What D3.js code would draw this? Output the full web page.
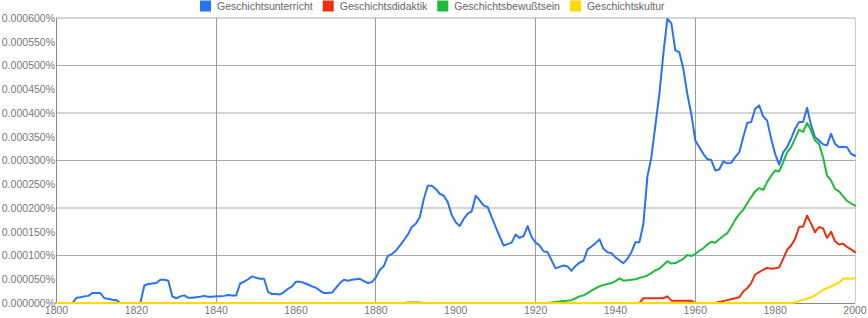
<!DOCTYPE html>
<html>
<head>
<meta charset="utf-8">
<script src="https://cdn.jsdelivr.net/npm/d3@7"></script>
<style>
  body { margin: 0; background: #fff; }
  svg { display: block; font-family: "Liberation Sans", Arial, sans-serif; }
</style>
</head>
<body>
<div id="chart"></div>
<script>
// values in units of 0.000001 %
const firstYear = 1800, lastYear = 2000;

const unterricht = [
  0,0,0,0,0,11,12,14,15,21,
  21,21,10,9,7,6,0,0,0,0,
  0,0,37,40,41,42,49,49,47,14,
  10,14,16,11,11,12,13,15,13,13,
  14,14,15,17,16,16,41,45,50,56,
  53,51,51,23,19,19,18,23,30,35,
  45,45,42,39,35,32,26,21,21,22,
  32,42,49,47,49,50,51,46,42,44,
  54,70,78,99,103,110,121,132,144,160,
  167,181,219,247,247,240,230,226,212,185,
  170,162,177,188,193,226,216,205,202,181,
  160,140,121,124,127,144,137,141,162,139,
  127,121,109,107,90,73,76,79,77,68,
  78,85,89,113,119,126,134,114,107,105,
  96,90,84,93,107,128,128,167,266,307,
  374,440,525,598,589,532,528,493,440,398,
  342,328,314,303,301,279,281,298,294,295,
  307,317,349,379,381,409,416,393,384,346,
  314,291,317,328,346,367,381,381,411,374,
  349,342,334,332,356,335,328,329,328,314,
  310
];

const didaktik = [
  0,0,0,0,0,0,0,0,0,0,
  0,0,0,0,0,0,0,0,0,0,
  0,0,0,0,0,0,0,0,0,0,
  0,0,0,0,0,0,0,0,0,0,
  0,0,0,0,0,0,0,0,0,0,
  0,0,0,0,0,0,0,0,0,0,
  0,0,0,0,0,0,0,0,0,0,
  0,0,0,0,0,0,0,0,0,0,
  0,0,0,0,0,0,0,0,0,0,
  0,0,0,0,0,0,0,0,0,0,
  0,0,0,0,0,0,0,0,0,0,
  0,0,0,0,0,0,0,0,0,0,
  0,0,0,0,0,0,0,0,0,0,
  0,0,0,0,0,0,0,0,0,0,
  0,0,0,0,0,0,0,10,10,10,
  10,10,10,14,5,5,5,5,5,5,
  0,0,0,0,0,0,2,4,6,8,
  10,12,24,31,42,60,65,70,74,72,
  73,75,93,112,121,135,160,161,184,167,
  149,160,157,137,150,130,123,125,118,113,
  107
];

const bewusstsein = [
  0,0,0,0,0,0,0,0,0,0,
  0,0,0,0,0,0,0,0,0,0,
  0,0,0,0,0,0,0,0,0,0,
  0,0,0,0,0,0,0,0,0,0,
  0,0,0,0,0,0,0,0,0,0,
  0,0,0,0,0,0,0,0,0,0,
  0,0,0,0,0,0,0,0,0,0,
  0,0,0,0,0,0,0,0,0,0,
  0,0,0,0,0,0,0,0,1,1,
  1,1,0,0,0,0,0,0,0,0,
  0,0,0,0,0,0,0,0,0,0,
  0,0,0,0,0,0,0,0,0,0,
  0,0,0,0,1,2,3,4,5,6,
  10,14,16,21,26,31,35,38,40,42,
  46,52,47,48,49,50,53,55,58,63,
  69,72,80,88,83,84,88,93,101,99,
  103,110,115,123,129,127,134,141,147,160,
  175,187,196,210,223,235,242,238,255,268,
  279,277,296,317,328,346,365,360,379,363,
  342,335,307,268,258,240,235,225,215,210,
  205
];

const kultur = [
  0,0,0,0,0,0,0,0,0,0,
  0,0,0,0,0,0,0,0,0,0,
  0,0,0,0,0,0,0,0,0,0,
  0,0,0,0,0,0,0,0,0,0,
  0,0,0,0,0,0,0,0,0,0,
  0,0,0,0,0,0,0,0,0,0,
  0,0,0,0,0,0,0,0,0,0,
  0,0,0,0,0,0,0,0,0,0,
  0,0,0,0,0,0,0,0,0,0,
  0,0,0,0,0,0,0,0,0,0,
  0,0,0,0,0,0,0,0,0,0,
  0,0,0,0,0,0,0,0,0,0,
  0,0,0,0,0,0,0,0,0,0,
  0,0,0,0,0,0,0,0,0,0,
  0,0,0,0,0,0,0,0,0,0,
  0,0,0,0,0,0,0,0,0,0,
  0,0,0,0,0,0,0,0,0,0,
  0,0,0,0,0,0,0,0,0,0,
  0,0,0,0,0,1,4,7,9,12,
  16,22,28,31,35,39,43,51,52,51,
  52
];

const seriesNames = ["Geschichtsunterricht", "Geschichtsdidaktik", "Geschichtsbewußtsein", "Geschichtskultur"];
const seriesValues = [unterricht, didaktik, bewusstsein, kultur];
const seriesColors = ["#2a72f2", "#e8300e", "#1fba3a", "#ffd900"];

const yTicks = [0, 50, 100, 150, 200, 250, 300, 350, 400, 450, 500, 550, 600];
const yGrid = [100, 200, 300, 400, 500, 600];
const xTicks = [1800, 1820, 1840, 1860, 1880, 1900, 1920, 1940, 1960, 1980, 2000];
const xGrid = [1840, 1880, 1920, 1960, 2000];

const width = 868, height = 318;
const years = d3.range(firstYear, lastYear + 1);

const svg = d3.select("#chart").append("svg").attr("width", width).attr("height", height);

const x = d3.scaleLinear().domain([firstYear, lastYear]).range([56.5, 855]);
const y = d3.scaleLinear().domain([0, 600]).range([303, 18]);

// grid
svg.append("g").selectAll("line").data(yGrid).join("line")
  .attr("x1", x(firstYear)).attr("x2", x(lastYear))
  .attr("y1", d => y(d)).attr("y2", d => y(d))
  .attr("stroke", "#aaa").attr("stroke-width", 1);

svg.append("g").selectAll("line").data(xGrid).join("line")
  .attr("x1", d => x(d)).attr("x2", d => x(d))
  .attr("y1", y(600)).attr("y2", y(0))
  .attr("stroke", d => d === lastYear ? "#ccc" : "#999")
  .attr("shape-rendering", "crispEdges");

// axes lines
svg.append("line").attr("x1", x(firstYear)).attr("x2", x(firstYear)).attr("y1", y(600)).attr("y2", y(0))
  .attr("stroke", "#888").attr("shape-rendering", "crispEdges");
svg.append("line").attr("x1", x(firstYear)).attr("x2", x(lastYear)).attr("y1", y(0)).attr("y2", y(0))
  .attr("stroke", "#888").attr("shape-rendering", "crispEdges");

// y tick labels
svg.append("g").selectAll("text").data(yTicks).join("text")
  .attr("x", 55).attr("y", d => y(d)).attr("dy", "0.36em")
  .attr("text-anchor", "end").attr("font-size", "10.5px").attr("fill", "#777")
  .text(d => (d / 1e6).toFixed(6) + "%");

// x tick labels
svg.append("g").selectAll("text").data(xTicks).join("text")
  .attr("x", d => x(d)).attr("y", 313.5)
  .attr("text-anchor", "middle").attr("font-size", "10.5px").attr("fill", "#777")
  .text(d => d);

// lines
const line = d3.line().x((d, i) => x(years[i])).y(d => y(d));
svg.append("g").selectAll("path").data(seriesValues).join("path")
  .attr("d", line)
  .attr("fill", "none")
  .attr("stroke", (d, i) => seriesColors[i])
  .attr("stroke-width", 2)
  .attr("stroke-linejoin", "round")
  .attr("stroke-linecap", "round");

// legend
const legend = svg.append("g");
let lx = 200;
seriesNames.forEach((name, i) => {
  legend.append("rect").attr("x", lx).attr("y", 0.5).attr("width", 11).attr("height", 11)
    .attr("fill", seriesColors[i]);
  const t = legend.append("text").attr("x", lx + 17).attr("y", 10)
    .attr("font-size", "10.5px").attr("fill", "#666").text(name);
  lx += 17 + t.node().getComputedTextLength() + 10;
});
</script>
</body>
</html>
